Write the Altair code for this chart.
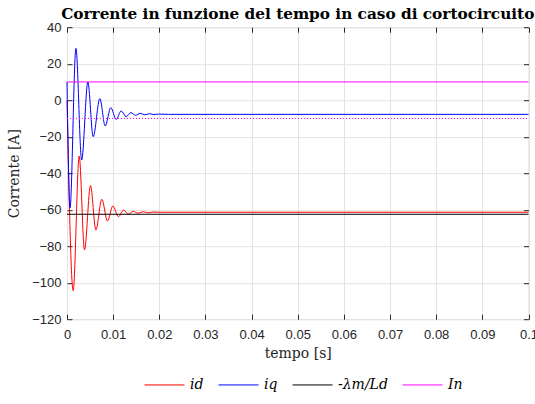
import altair as alt
import pandas as pd

# ---- data ----
t_id = [0, 0.00134, 0.00264, 0.00379, 0.00509, 0.00626, 0.00755, 0.00877, 0.00994,
        0.01115, 0.01223, 0.01331, 0.01433, 0.01541, 0.01649, 0.01758, 0.01866, 0.0202, 0.1]
v_id = [0, -104.4, -30.6, -82, -46.8, -71.1, -54.3, -66.2, -58, -63.8, -60.2, -62.5,
        -60.9, -61.9, -61.1, -61.7, -61.3, -61.4, -61.4]

t_iq = [0, 0.00065, 0.00193, 0.00318, 0.00452, 0.00567, 0.00712, 0.00827, 0.0095,
        0.01065, 0.01173, 0.01281, 0.01383, 0.01487, 0.01584, 0.01686, 0.01786,
        0.01883, 0.0198, 0.022, 0.1]
v_iq = [10, -59, 28.4, -32.8, 10, -20, 0.9, -14.1, -4.1, -10.6, -5.9, -9.0, -6.8,
        -8.3, -7.2, -8.0, -7.4, -7.85, -7.6, -7.75, -7.75]

t_lam = [0, 0.1]
v_lam = [-62.5, -62.5]

t_in = [0, 0.1]
v_in = [10, 10]

t_nin = [0, 0.1]
v_nin = [-10, -10]

series_names = ["id", "iq", "-λm/Ld", "In"]
series_colors = ["#ff0000", "#0000ff", "#000000", "#ff00ff"]
series_widths = [1, 1, 1, 2]

x_ticks = [0, 0.01, 0.02, 0.03, 0.04, 0.05, 0.06, 0.07, 0.08, 0.09, 0.1]
y_ticks = [-120, -100, -80, -60, -40, -20, 0, 20, 40]

rows = []
for name, ts, vs in zip(series_names, [t_id, t_iq, t_lam, t_in], [v_id, v_iq, v_lam, v_in]):
    for i, (t, v) in enumerate(zip(ts, vs)):
        rows.append({"t": t, "v": v, "s": name, "k": i})
df = pd.DataFrame(rows)
df_nin = pd.DataFrame({"t": t_nin, "v": v_nin})

xs = alt.Scale(domain=[0, 0.1], nice=False, zero=False)
ys = alt.Scale(domain=[-120, 40], nice=False, zero=False)

tick_col = "#262626"
lab_font = "Liberation Sans"
serif = "DejaVu Serif"

main = alt.Chart(df).mark_line(interpolate="monotone").encode(
    x=alt.X("t:Q", scale=xs, axis=alt.Axis(
        orient="bottom", values=x_ticks, format="~g", title="tempo [s]",
        offset=-5, tickSize=5, tickColor=tick_col, domain=False, grid=True,
        gridColor="#e3e3e3", labelPadding=9, labelFont=lab_font, labelFontSize=13,
        labelColor=tick_col, titleFont=serif, titleFontSize=14, titleFontWeight="normal",
        titleColor=tick_col, titlePadding=5, labelFlush=False)),
    y=alt.Y("v:Q", scale=ys, axis=alt.Axis(
        orient="left", values=y_ticks, format="d", title="Corrente [A]",
        offset=-5, tickSize=5, tickColor=tick_col, domain=False, grid=True,
        gridColor="#e3e3e3", labelPadding=6, labelFont=lab_font, labelFontSize=13,
        labelColor=tick_col, titleFont=serif, titleFontSize=14, titleFontWeight="normal",
        titleColor=tick_col, titlePadding=10, labelFlush=False)),
    color=alt.Color("s:N", scale=alt.Scale(domain=series_names, range=series_colors),
                    legend=alt.Legend(title=None, orient="none", direction="horizontal",
                                      legendX=77, legendY=337, symbolType="stroke",
                                      symbolSize=1600, symbolStrokeWidth=1,
                                      labelFont=serif, labelFontStyle="italic",
                                      labelFontSize=14, labelColor="#000000",
                                      labelOffset=5, columnPadding=12, padding=0)),
    strokeWidth=alt.StrokeWidth("s:N", scale=alt.Scale(domain=series_names, range=series_widths),
                                legend=None),
    detail="s:N",
    order="k:Q",
)

frame = alt.Chart(df_nin).mark_line(color="#ff00ff", strokeWidth=1, strokeDash=[1, 2]).encode(
    x=alt.X("t:Q", scale=xs, axis=alt.Axis(
        orient="top", values=x_ticks, labels=False, title=None, offset=-5, tickSize=5,
        tickColor=tick_col, domain=False, grid=False)),
    y=alt.Y("v:Q", scale=ys, axis=alt.Axis(
        orient="right", values=y_ticks, labels=False, title=None, offset=-5, tickSize=5,
        tickColor=tick_col, domain=False, grid=False)),
)

chart = alt.layer(main, frame).resolve_axis(x="independent", y="independent").properties(
    width=461.5, height=292,
    autosize=alt.AutoSizeParams(type="none"),
    padding={"left": 67, "top": 27.2, "right": 6.5, "bottom": 84.8},
    title=alt.TitleParams("Corrente in funzione del tempo in caso di cortocircuito",
                          font=serif, fontSize=15.3, fontWeight="bold", color="#000000",
                          anchor="middle", offset=-1),
).configure_view(stroke="#555555", strokeWidth=1).configure(background="white")

chart.save("out.html", embed_options={"renderer": "svg", "actions": False})
